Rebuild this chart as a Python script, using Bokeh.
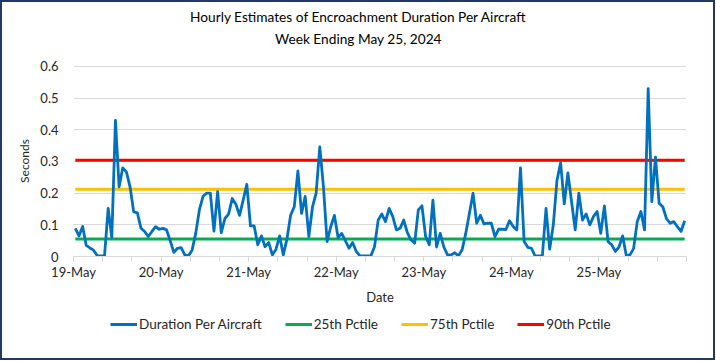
import numpy as np
from bokeh.plotting import figure
from bokeh.models import Range1d, FixedTicker, Legend, LegendItem, Label
from bokeh.layouts import column
from bokeh.embed import file_html
from bokeh.resources import INLINE

# ---- data ----
days = ["19-May", "20-May", "21-May", "22-May", "23-May", "24-May", "25-May"]
duration = [
    0.089, 0.065, 0.095, 0.035, 0.027, 0.020, 0.003, 0.002, 0.002, 0.152, 0.060, 0.430,
    0.220, 0.280, 0.267, 0.220, 0.141, 0.138, 0.089, 0.079, 0.063, 0.079, 0.094, 0.086,
    0.089, 0.084, 0.050, 0.013, 0.026, 0.028, 0.005, 0.002, 0.020, 0.073, 0.147, 0.190,
    0.200, 0.200, 0.080, 0.205, 0.075, 0.120, 0.134, 0.183, 0.165, 0.130, 0.178, 0.228,
    0.097, 0.097, 0.037, 0.065, 0.031, 0.044, 0.005, 0.023, 0.065, 0.005, 0.055, 0.130,
    0.157, 0.270, 0.136, 0.190, 0.063, 0.157, 0.200, 0.346, 0.220, 0.047, 0.094, 0.130,
    0.060, 0.073, 0.050, 0.026, 0.044, 0.016, 0.002, 0.002, 0.002, 0.002, 0.031, 0.115,
    0.134, 0.110, 0.152, 0.126, 0.084, 0.089, 0.115, 0.075, 0.052, 0.042, 0.147, 0.160,
    0.063, 0.037, 0.178, 0.030, 0.073, 0.030, 0.005, 0.005, 0.012, 0.002, 0.021, 0.073,
    0.136, 0.200, 0.105, 0.130, 0.103, 0.105, 0.105, 0.063, 0.086, 0.086, 0.085, 0.113,
    0.095, 0.084, 0.280, 0.047, 0.029, 0.026, 0.002, 0.002, 0.002, 0.152, 0.023, 0.100,
    0.240, 0.296, 0.166, 0.264, 0.173, 0.084, 0.200, 0.115, 0.134, 0.100, 0.126, 0.142,
    0.073, 0.160, 0.047, 0.037, 0.016, 0.030, 0.065, 0.003, 0.005, 0.025, 0.110, 0.142,
    0.084, 0.530, 0.173, 0.314, 0.168, 0.157, 0.120, 0.105, 0.110, 0.094, 0.079, 0.113,
]
pctile_25 = 0.055
pctile_75 = 0.212
pctile_90 = 0.304
y_ticks = [0, 0.1, 0.2, 0.3, 0.4, 0.5, 0.6]
y_tick_labels = ["0", "0.1", "0.2", "0.3", "0.4", "0.5", "0.6"]
series_names = ["Duration Per Aircraft", "25th Pctile", "75th Pctile", "90th Pctile"]
series_colors = ["#0070C0", "#00B050", "#FFC000", "#FF0000"]
title_lines = ["Hourly Estimates of Encroachment Duration Per Aircraft", "Week Ending May 25, 2024"]

FONT = "Lato"
TXT = "#262626"
W = 711
HEAD_H, MAIN_H, LEG_H = 54, 251, 51

n = len(duration)
hours_per_day = 24
x = np.arange(n) + 0.5  # each hourly point centred in its category slot
title_center_x = 78.1    # horizontal centre of the chart box, in hour units

# ---------- header (two-line title) ----------
head = figure(width=W, height=HEAD_H, output_backend="svg", toolbar_location=None,
              x_range=Range1d(0, n), y_range=Range1d(0, HEAD_H),
              x_axis_type=None, y_axis_type=None, min_border=0,
              outline_line_color=None, background_fill_color="white", border_fill_color="white")
head.grid.visible = False
head.add_layout(Label(x=title_center_x, y=HEAD_H - 14, text=title_lines[0], text_align="center",
                      text_baseline="middle", text_font=FONT, text_font_size="13.7px",
                      text_color="#000000"))
head.add_layout(Label(x=title_center_x, y=HEAD_H - 36, text=title_lines[1], text_align="center",
                      text_baseline="middle", text_font=FONT, text_font_size="13.7px",
                      text_color="#000000"))

# ---------- main chart ----------
p = figure(width=W, height=MAIN_H, output_backend="svg", toolbar_location=None,
           x_range=Range1d(0, n), y_range=Range1d(y_ticks[0], y_ticks[-1] + 0.003),
           min_border_left=71, min_border_right=27, min_border_top=9, min_border_bottom=50,
           background_fill_color="white", border_fill_color="white")
p.outline_line_color = None
p.xgrid.grid_line_color = None
p.ygrid.grid_line_color = "#D9D9D9"
p.ygrid.grid_line_width = 1

xa = p.xaxis[0]
xa.ticker = FixedTicker(ticks=list(range(0, n + 1, 8)))
overrides = {t: "" for t in range(0, n + 1, 8)}
for i, d in enumerate(days):
    overrides[i * hours_per_day] = d
xa.major_label_overrides = overrides
xa.axis_line_color = "#D9D9D9"
xa.major_tick_line_color = "#D9D9D9"
xa.major_tick_in = 0
xa.major_tick_out = 5
xa.minor_tick_line_color = None
xa.major_label_standoff = 2
xa.major_label_text_font = FONT
xa.major_label_text_font_size = "13px"
xa.major_label_text_color = TXT
xa.axis_label = "Date"
xa.axis_label_standoff = 6
xa.axis_label_text_font = FONT
xa.axis_label_text_font_size = "13px"
xa.axis_label_text_font_style = "normal"
xa.axis_label_text_color = TXT

ya = p.yaxis[0]
ya.ticker = FixedTicker(ticks=y_ticks)
ya.major_label_overrides = dict(zip(y_ticks, y_tick_labels))
ya.axis_line_color = None
ya.major_tick_line_color = None
ya.major_tick_in = 0
ya.major_tick_out = 0
ya.minor_tick_line_color = None
ya.major_label_standoff = 15
ya.major_label_text_font = FONT
ya.major_label_text_font_size = "13px"
ya.major_label_text_color = TXT
ya.axis_label = "Seconds"
ya.axis_label_standoff = 5
ya.axis_label_text_font = FONT
ya.axis_label_text_font_size = "12px"
ya.axis_label_text_font_style = "normal"
ya.axis_label_text_color = TXT

p.line(x, [pctile_25] * n, line_color=series_colors[1], line_width=3)
p.line(x, [pctile_75] * n, line_color=series_colors[2], line_width=3)
p.line(x, [pctile_90] * n, line_color=series_colors[3], line_width=3)
p.line(x, duration, line_color=series_colors[0], line_width=2.8, line_join="round")

# ---------- legend strip ----------
leg = figure(width=W, height=LEG_H, output_backend="svg", toolbar_location=None,
             x_range=Range1d(0, 1), y_range=Range1d(0, 1),
             x_axis_type=None, y_axis_type=None, min_border=0,
             outline_line_color=None, background_fill_color="white", border_fill_color="white")
leg.grid.visible = False
items = []
for name, col in zip(series_names, series_colors):
    # legend swatch proxy (nothing is drawn in the strip itself)
    r = leg.line([np.nan], [np.nan], line_color=col, line_width=3)
    items.append(LegendItem(label=name, renderers=[r]))
legend = Legend(items=items, orientation="horizontal", location=(37, 26),
                padding=0, margin=0, spacing=23, glyph_width=27, glyph_height=16,
                label_standoff=2, label_height=16,
                label_text_font=FONT, label_text_font_size="13.5px", label_text_color=TXT,
                border_line_color=None, background_fill_alpha=0)
leg.add_layout(legend)

layout = column(head, p, leg, spacing=0, styles={"border": "2px solid #1F3864"})
open("out.html", "w").write(file_html(layout, INLINE))
